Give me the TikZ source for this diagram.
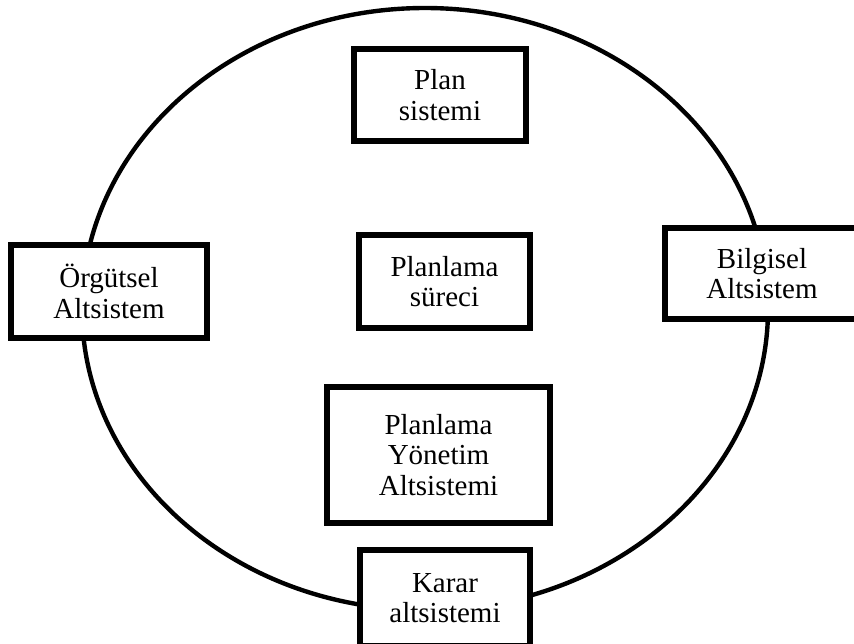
\documentclass[tikz,border=0pt]{standalone}
\usepackage{fontspec}
\setmainfont{Liberation Serif}
\begin{document}
\begin{tikzpicture}[x=0.02cm,y=-0.02cm,
  sysbox/.style={draw, line width=3.2pt, fill=white, align=center, inner sep=0pt,
    font=\fontsize{16.5}{17.4}\selectfont}]
\useasboundingbox (0,0) rectangle (854,643);
\begin{scope}
\clip (0,0) rectangle (854,643);
\draw[line width=2.5pt] (425,309) ellipse [x radius=343, y radius=301];
\node[sysbox, minimum width=3.44cm, minimum height=1.84cm] (plan) at (440,95) {Plan\\sistemi};
\node[sysbox, minimum width=3.42cm, minimum height=1.86cm] (surec) at (444.5,281.5) {Planlama\\süreci};
\node[sysbox, minimum width=4.46cm, minimum height=2.72cm] (yonetim) at (438.5,455) {Planlama\\Yönetim\\Altsistemi};
\node[sysbox, minimum width=3.92cm, minimum height=1.86cm] (orgut) at (109,291.5) {Örgütsel\\Altsistem};
\node[sysbox, minimum width=3.88cm, minimum height=1.82cm] (bilgi) at (762,273.5) {Bilgisel\\Altsistem};
\node[sysbox, minimum width=3.40cm, minimum height=1.92cm] (karar) at (445,598) {Karar\\altsistemi};
\end{scope}
\end{tikzpicture}
\end{document}
